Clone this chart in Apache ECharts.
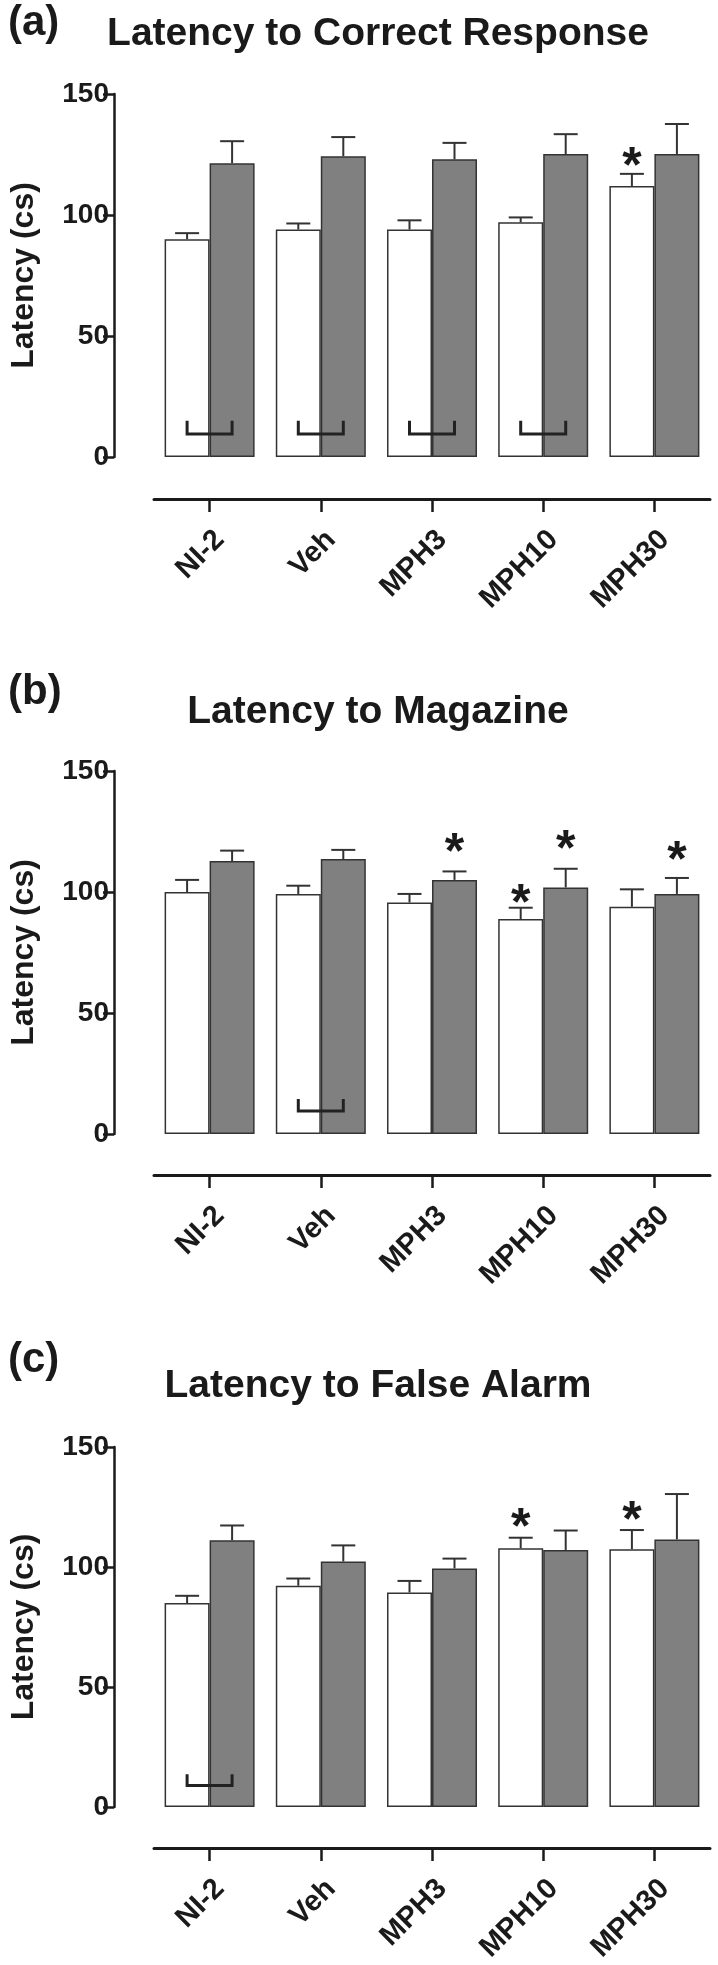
<!DOCTYPE html>
<html><head><meta charset="utf-8">
<script src="https://cdn.jsdelivr.net/npm/echarts@6/dist/echarts.min.js"></script>
<style>html,body{margin:0;padding:0;background:#fff}#c{width:718px;height:1965px}</style>
</head><body><div id="c"></div>
<script>
// ---------------- data ----------------
const categories = ['NI-2', 'Veh', 'MPH3', 'MPH10', 'MPH30'];
const yTicks = [0, 50, 100, 150];
const titles = ['Latency to Correct Response', 'Latency to Magazine', 'Latency to False Alarm'];
const panelLabels = ['(a)', '(b)', '(c)'];
const yAxisName = 'Latency (cs)';

// (a) Latency to Correct Response
const aWhite = [90, 94, 94, 97, 112];
const aWhiteSem = [2.5, 2.5, 3.8, 2.0, 5.0];
const aGray = [121.4, 124.3, 123, 125.2, 125.2];
const aGraySem = [9.1, 7.9, 6.8, 8.2, 12.4];
const aStars = [[4, 0, 124]];                 // [category, bar (0 white / 1 gray), y]
const aBrackets = [[0, 9.5, 15], [1, 9.5, 15], [2, 9.5, 15], [3, 9.5, 15]]; // [category, low, high]

// (b) Latency to Magazine
const bWhite = [100, 99.2, 95.7, 88.8, 93.9];
const bWhiteSem = [5.0, 3.4, 3.5, 4.7, 7.2];
const bGray = [112.8, 113.6, 105, 101.9, 99.2];
const bGraySem = [4.3, 3.8, 3.5, 7.7, 6.6];
const bStars = [[2, 1, 120], [3, 0, 99], [3, 1, 121.5], [4, 1, 116.7]];
const bBrackets = [[1, 9.5, 14.5]];

// (c) Latency to False Alarm
const cWhite = [85, 92.2, 89.4, 107.8, 107.4];
const cWhiteSem = [3.0, 3.0, 4.8, 4.4, 8.0];
const cGray = [111.1, 102.3, 99.4, 107.1, 111.5];
const cGraySem = [6.2, 6.7, 4.1, 8.1, 18.9];
const cStars = [[3, 0, 120.5], [4, 0, 123.2]];
const cBrackets = [[0, 9, 13.6]];

// ---------------- layout / style ----------------
const FONT = '"Liberation Sans", Arial, sans-serif';
const INK = '#1a1a1a';
const BAR_W = 45;
const HALF = BAR_W / 2;
const STAR_SHIFT = 11;
const layouts = [
  { top: 94,   height: 363, xOff: 42, labelY: 23,   titleY: 34 },
  { top: 771,  height: 363, xOff: 41, labelY: 692,  titleY: 712 },
  { top: 1447, height: 363, xOff: 41, labelY: 1360, titleY: 1386 }
];
const panels = [
  { white: aWhite, whiteSem: aWhiteSem, gray: aGray, graySem: aGraySem, stars: aStars, brackets: aBrackets },
  { white: bWhite, whiteSem: bWhiteSem, gray: bGray, graySem: bGraySem, stars: bStars, brackets: bBrackets },
  { white: cWhite, whiteSem: cWhiteSem, gray: cGray, graySem: cGraySem, stars: cStars, brackets: cBrackets }
];

function errRender(params, api) {
  const cat = api.value(0), v = api.value(1), sem = api.value(2), side = api.value(3);
  const base = api.coord([cat, v]);
  const top = api.coord([cat, v + sem]);
  const x = base[0] + side * HALF;
  return { type: 'group', children: [
    { type: 'line', shape: { x1: x, y1: base[1], x2: x, y2: top[1] }, style: { stroke: '#333', lineWidth: 2 } },
    { type: 'line', shape: { x1: x - 12, y1: top[1], x2: x + 12, y2: top[1] }, style: { stroke: '#333', lineWidth: 2 } }
  ]};
}
function starRender(params, api) {
  const cat = api.value(0), side = api.value(1) === 0 ? -1 : 1, y = api.value(2);
  const p = api.coord([cat, y]);
  return { type: 'text', x: p[0] + side * HALF, y: p[1] + STAR_SHIFT,
    style: { text: '*', font: 'bold 50px ' + FONT, fill: INK, align: 'center', verticalAlign: 'middle',
             textAlign: 'center', textVerticalAlign: 'middle' } };
}
function bracketRender(params, api) {
  const cat = api.value(0), lo = api.value(1), hi = api.value(2);
  const pl = api.coord([cat, lo]);
  const ph = api.coord([cat, hi]);
  const xl = pl[0] - HALF, xr = pl[0] + HALF;
  return { type: 'polyline', shape: { points: [[xl, ph[1]], [xl, pl[1]], [xr, pl[1]], [xr, ph[1]]] },
    style: { stroke: '#222', lineWidth: 3, fill: null } };
}

const grid = [], xAxis = [], yAxis = [], series = [], graphic = [];
layouts.forEach((L, i) => {
  const P = panels[i];
  grid.push({ left: 148, right: 8, top: L.top, height: L.height });
  xAxis.push({
    type: 'category', gridIndex: i, data: categories, position: 'bottom', offset: L.xOff,
    axisLine: { onZero: false, lineStyle: { color: INK, width: 3 } },
    axisTick: { show: true, inside: false, alignWithLabel: true, length: 13, lineStyle: { color: INK, width: 2.5 } },
    axisLabel: { rotate: 45, fontSize: 29, fontWeight: 'bold', fontFamily: FONT, color: INK, margin: 26,
                 verticalAlign: 'top' },
    splitLine: { show: false }
  });
  yAxis.push({
    type: 'value', gridIndex: i, min: yTicks[0], max: yTicks[yTicks.length - 1],
    interval: yTicks[1] - yTicks[0], offset: 40,
    splitLine: { show: false },
    axisLine: { show: true, onZero: false, lineStyle: { color: INK, width: 2.5 } },
    axisTick: { show: true, length: 11, lineStyle: { color: INK, width: 2.5 } },
    axisLabel: { fontSize: 28, fontWeight: 'bold', fontFamily: FONT, color: INK, margin: 5 },
    name: yAxisName, nameLocation: 'middle', nameGap: 74,
    nameTextStyle: { fontSize: 32, fontWeight: 'bold', fontFamily: FONT, color: INK }
  });
  series.push({
    type: 'bar', xAxisIndex: i, yAxisIndex: i, data: P.white, barWidth: BAR_W, barGap: '0%',
    itemStyle: { color: '#ffffff', borderColor: '#333', borderWidth: 1.5 }, z: 2
  });
  series.push({
    type: 'bar', xAxisIndex: i, yAxisIndex: i, data: P.gray, barWidth: BAR_W, barGap: '0%',
    itemStyle: { color: '#808080', borderColor: '#333', borderWidth: 1.5 }, z: 2
  });
  const errData = P.white.map((v, k) => [k, v, P.whiteSem[k], -1])
    .concat(P.gray.map((v, k) => [k, v, P.graySem[k], 1]));
  series.push({ type: 'custom', xAxisIndex: i, yAxisIndex: i, data: errData, renderItem: errRender,
    encode: { x: 0, y: 1 }, z: 3, silent: true });
  series.push({ type: 'custom', xAxisIndex: i, yAxisIndex: i, data: P.stars, renderItem: starRender,
    encode: { x: 0, y: 2 }, z: 4, silent: true });
  series.push({ type: 'custom', xAxisIndex: i, yAxisIndex: i, data: P.brackets, renderItem: bracketRender,
    encode: { x: 0, y: 2 }, z: 4, silent: true });
  graphic.push({ type: 'text', x: 8, y: L.labelY,
    style: { text: panelLabels[i], font: 'bold 42px ' + FONT, fill: INK, align: 'left', verticalAlign: 'middle',
             textAlign: 'left', textVerticalAlign: 'middle' } });
  graphic.push({ type: 'text', x: 378, y: L.titleY,
    style: { text: titles[i], font: 'bold 39px ' + FONT, fill: INK, align: 'center', verticalAlign: 'middle',
             textAlign: 'center', textVerticalAlign: 'middle' } });
});

const chart = echarts.init(document.getElementById('c'), null, { renderer: 'canvas' });
chart.setOption({ animation: false, backgroundColor: '#fff', grid, xAxis, yAxis, series, graphic });
</script></body></html>
